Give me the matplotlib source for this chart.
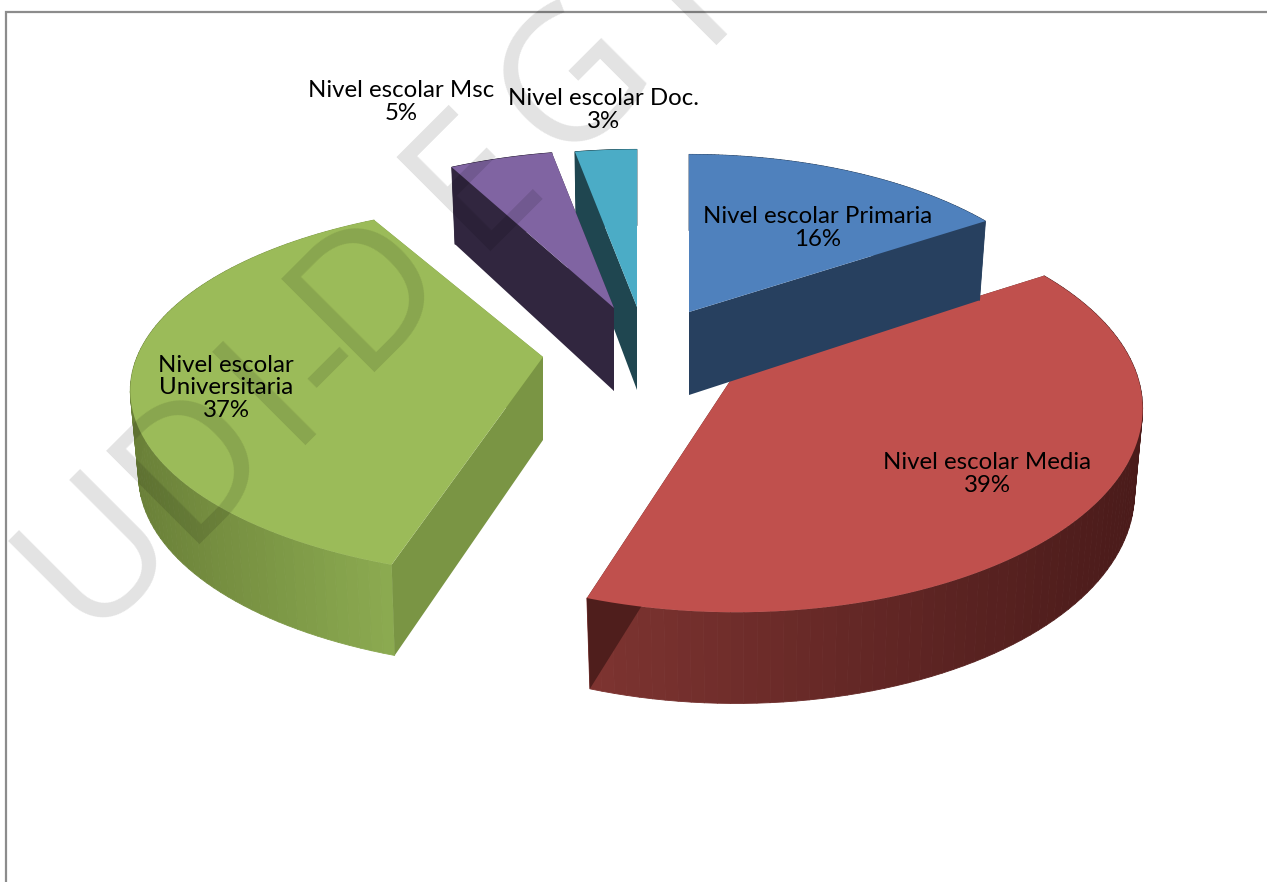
import numpy as np
import matplotlib
matplotlib.use('Agg')
import matplotlib.pyplot as plt
from matplotlib.collections import PolyCollection
from matplotlib.colors import to_rgb

labels = ['Nivel escolar Primaria', 'Nivel escolar Media', 'Nivel escolar\nUniversitaria',
          'Nivel escolar Msc', 'Nivel escolar Doc.']
percents = [16, 39, 37, 5, 3]

top_colors = ['#4F81BD', '#C0504D', '#9BBB59', '#8064A2', '#4BACC6']
side_colors = ['#27405F', '#4F1E1C', '#7A9544', '#31263F', '#1F4650']
# rim shading from the front-left of the slice towards its far end
rim_left = ['#27405F', '#7E3431', '#6A8038', '#31263F', '#1F4650']
rim_right = ['#27405F', '#4A1B1A', '#8BAA50', '#31263F', '#1F4650']

# exploded slice layout: apex x, apex y, width radius, height radius
apex_x = [689, 736, 543, 614, 637]
apex_y = [312, 372, 357, 308, 307]
rad_x = [385, 400, 406, 390, 390]
rad_y = [186, 197, 181, 186, 186]
label_x = [818, 987, 226, 401, 603]
label_y = [228, 474, 388, 102, 110]

persp = 0.18
depth = 83

watermark = ['U', 'D', 'I', '-', 'D', 'E', 'G', 'R']
mark_x = [98, 195, 272, 327, 370, 475, 575, 705]
mark_y = [552, 462, 392, 363, 290, 180, 82, -30]


def project(ang, ax0, ay0, rx, ry):
    u, v = np.sin(ang), np.cos(ang)
    d = 1 + persp * v
    return ax0 + rx * u / d, ay0 - ry * v / d, v


def drop(x, y, v, ax0):
    return ax0 + (x - ax0) * 0.98, y + depth / (1 + 0.5 * persp * v)


def draw_slice(ax, i, a0, a1):
    ang = np.linspace(a0, a1, 90)
    x, y, v = project(ang, apex_x[i], apex_y[i], rad_x[i], rad_y[i])
    bx, by = drop(x, y, v, apex_x[i])
    ax_b = apex_x[i]
    ay_b = apex_y[i] + depth

    # outer rim as thin strips so the shade can vary along it
    c0, c1 = np.array(to_rgb(rim_left[i])), np.array(to_rgb(rim_right[i]))
    span = x.max() - x.min()
    polys, cols = [], []
    for k in range(len(x) - 1):
        polys.append([(x[k], y[k]), (x[k + 1], y[k + 1]), (bx[k + 1], by[k + 1]), (bx[k], by[k])])
        t = (x[k] - x.min()) / span
        cols.append(c0 + (c1 - c0) * t)
    ax.add_collection(PolyCollection(polys, facecolors=cols, edgecolors=cols, linewidths=0.6, zorder=i_z[i]))

    # the two cut faces
    for k in [0, -1]:
        ax.fill([x[k], apex_x[i], ax_b, bx[k]], [y[k], apex_y[i], ay_b, by[k]],
                color=side_colors[i], lw=0, zorder=i_z[i])

    # top face
    ax.fill(np.r_[apex_x[i], x], np.r_[apex_y[i], y], color=top_colors[i], lw=0, zorder=i_z[i])


# back slices first, blue goes over the red one
i_z = [5, 4, 3, 2, 1]

fig = plt.figure(figsize=(12.67, 8.82), dpi=100, facecolor='white')
ax = fig.add_axes([0, 0, 1, 1])
ax.set_xlim(0, 1267)
ax.set_ylim(882, 0)
ax.axis('off')

edges = np.r_[0, np.cumsum(percents)] / np.sum(percents) * 2 * np.pi
for i in range(len(percents)):
    draw_slice(ax, i, edges[i], edges[i + 1])

# chart frame, only top and left show
ax.plot([6, 6, 1267], [882, 12, 12], color='#8C8C8C', lw=1.6, solid_joinstyle='miter', zorder=7)

for ch, mx, my in zip(watermark, mark_x, mark_y):
    ax.text(mx, my, ch, fontsize=134, family='Open Sans', color='black', alpha=0.115,
            rotation=45, rotation_mode='anchor', ha='center', va='center', zorder=8)

for i, name in enumerate(labels):
    ax.text(label_x[i], label_y[i], '%s\n%d%%' % (name, percents[i]), fontsize=17.3, family='Lato',
            color='black', ha='center', va='center', linespacing=1.1, zorder=9)

fig.savefig('out.png', dpi=100)
